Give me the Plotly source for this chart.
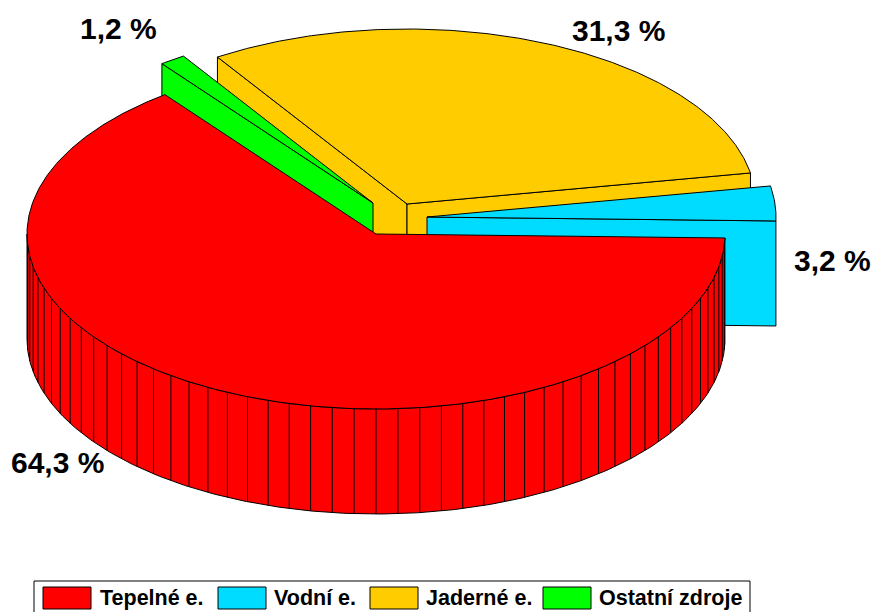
import numpy as np
import plotly.graph_objects as go

categories = ["Tepelné e.", "Ostatní zdroje", "Jaderné e.", "Vodní e."]
shares = [64.3, 1.2, 31.3, 3.2]
share_labels = ["64,3 %", "1,2 %", "31,3 %", "3,2 %"]
legend_order = ["Tepelné e.", "Vodní e.", "Jaderné e.", "Ostatní zdroje"]
colors = {"Tepelné e.": "#ff0000", "Vodní e.": "#00dcff",
          "Jaderné e.": "#ffcc00", "Ostatní zdroje": "#00ff00"}

RX, RY, DEPTH = 349, 175, 105
START = 1.3
apexes = {"Tepelné e.": (376, 234), "Ostatní zdroje": (373, 203),
          "Jaderné e.": (407, 204), "Vodní e.": (427, 217)}
label_pos = {"64,3 %": (57, 462), "1,2 %": (118, 28), "31,3 %": (618, 30), "3,2 %": (832, 260)}
legend_swatch_x = [43, 218, 370, 543]
legend_text_x = [98, 272, 424, 597]

angles = {}
a = START
for c, s in zip(categories, shares):
    angles[c] = (a, a + s * 3.6)
    a += s * 3.6


def rim(cat, a0, a1, dy=0):
    """Points on a slice's ellipse, clockwise angle in degrees from the right."""
    ax, ay = apexes[cat]
    t = np.radians(np.arange(a0, a1, 0.5).tolist() + [a1])
    return ax + RX * np.cos(t), ay + RY * np.sin(t) + dy


fig = go.Figure()


def poly(x, y, cat):
    fig.add_trace(go.Scatter(x=list(x), y=list(y), mode="lines", fill="toself",
                             fillcolor=colors[cat], line=dict(color="black", width=1),
                             hoverinfo="skip", showlegend=False, name=cat))


def top(cat):
    a0, a1 = angles[cat]
    ax, ay = apexes[cat]
    x, y = rim(cat, a0, a1)
    poly([ax, *x, ax], [ay, *y, ay], cat)


def cut(cat, angle):
    ax, ay = apexes[cat]
    x, y = rim(cat, angle, angle)
    px, py = x[0], y[0]
    poly([ax, px, px, ax, ax], [ay, py, py + DEPTH, ay + DEPTH, ay], cat)


def wall(cat, a0, a1):
    x, y = rim(cat, a0, a1)
    poly([*x, *x[::-1], x[0]], [*y, *(y[::-1] + DEPTH), y[0]], cat)


# Slices back to front
j, g, v, t = "Jaderné e.", "Ostatní zdroje", "Vodní e.", "Tepelné e."
cut(j, angles[j][0]); cut(j, angles[j][1]); top(j)
cut(g, angles[g][0]); top(g)
cut(v, angles[v][1] % 360); top(v)
wall(t, angles[t][0], 180)

# Facet lines on the red wall
lx, ly = [], []
for k in range(1, 50):
    ang = k * 3.6
    x, y = rim(t, ang, ang)
    lx += [x[0], x[0], None]
    ly += [y[0], y[0] + DEPTH, None]
fig.add_trace(go.Scatter(x=lx, y=ly, mode="lines", line=dict(color="black", width=1),
                         hoverinfo="skip", showlegend=False))
top(t)

for text in share_labels:
    x, y = label_pos[text]
    fig.add_annotation(x=x, y=y, text=text, showarrow=False, xanchor="center", yanchor="middle",
                       font=dict(family="Liberation Sans", size=30, color="black", weight="bold"))

shapes = [dict(type="rect", x0=34, x1=750, y0=581, y1=616, line=dict(color="black", width=1),
               fillcolor="white", layer="below")]
for name, sx, tx in zip(legend_order, legend_swatch_x, legend_text_x):
    shapes.append(dict(type="rect", x0=sx, x1=sx + 48, y0=587, y1=609,
                       line=dict(color="black", width=1), fillcolor=colors[name]))
    fig.add_annotation(x=tx, y=598, text=name, showarrow=False, xanchor="left", yanchor="middle",
                       font=dict(family="Liberation Sans", size=21.5, color="black", weight="bold"))

fig.update_layout(width=872, height=612, margin=dict(l=0, r=0, t=0, b=0),
                  paper_bgcolor="white", plot_bgcolor="white", shapes=shapes,
                  xaxis=dict(range=[0, 872], visible=False, fixedrange=True),
                  yaxis=dict(range=[612, 0], visible=False, fixedrange=True))
fig.write_html("out.html", config={"displayModeBar": False},
               post_script="document.body.style.margin='0';document.body.style.overflow='hidden';")
